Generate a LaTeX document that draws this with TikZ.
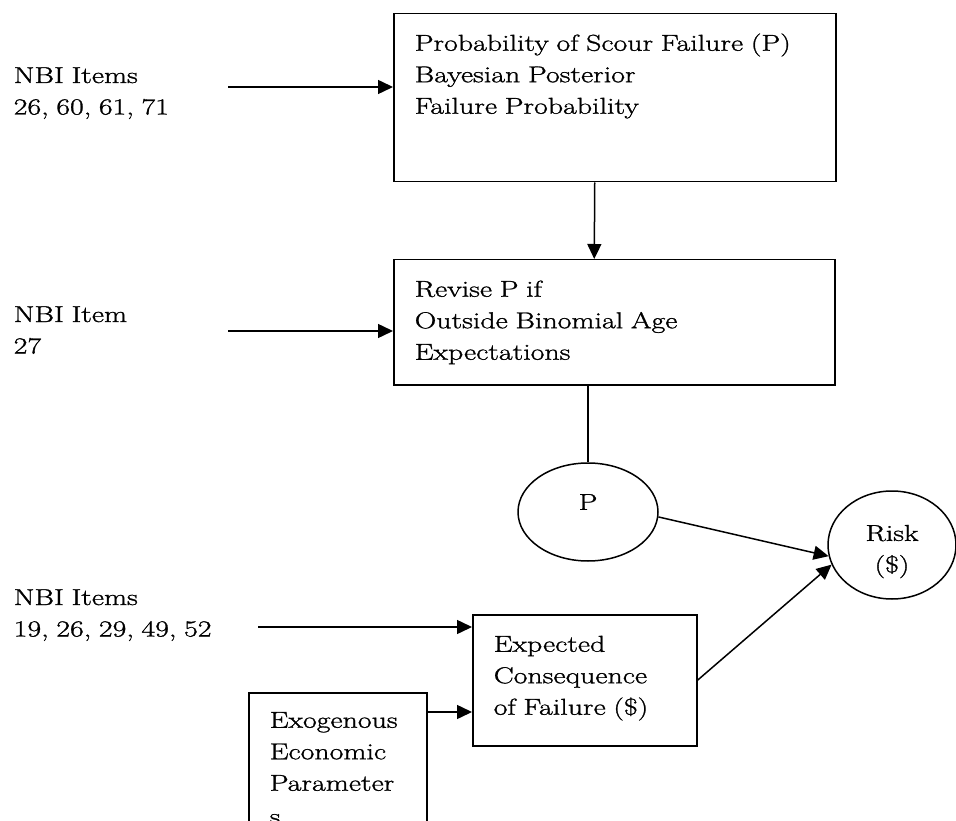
\documentclass[tikz,border=0pt]{standalone}
\usepackage{fontspec}
\setmainfont{Latin Modern Roman}[FakeStretch=1.3, FakeBold=1.2]
\usetikzlibrary{arrows.meta, shapes.geometric}

\begin{document}
\begin{tikzpicture}[x=1pt, y=-1pt, line width=1.5pt]
	\tikzset {->, >={Triangle[length=15pt, width=14pt]},
		every node/.style={font=\fontsize{23pt}{31.5pt}\selectfont},
		box/.style={draw, rectangle, anchor=north west, align=left, inner xsep=21pt, inner ysep=0pt, text height=37pt},
		items/.style={anchor=base west, align=left, text width=220pt, inner sep=0pt},
		oval/.style={draw, ellipse, inner sep=0pt, align=center} }

	\useasboundingbox (0,0) rectangle (956,821);

	\node[box, text width=400pt, text depth=131pt]	(A) at (393,13)		{Probability of Scour Failure (P)\\Bayesian Posterior\\Failure Probability};
	\node[box, text width=399pt, text depth=88pt]	(B) at (393,259)	{Revise P if\\Outside Binomial Age\\Expectations};
	\node[box, text width=182pt, text depth=94pt]	(C) at (472,614)	{Expected\\Consequence\\of Failure (\$)};
	\node[box, text width=136pt, text height=35pt, text depth=150pt] (E) at (248,692) {Exogenous\\Economic\\Parameter\\[2pt]s};

	\node[oval, minimum width=140pt, minimum height=98pt, text depth=20pt]	(P) at (588,512) {P};
	\node[oval, minimum width=128pt, minimum height=108pt, text width=80pt, text height=29pt] (R) at (892,545) {Risk\\(\$)};

	\node[items]	(N1) at (13,83)		{NBI Items\\26, 60, 61, 71};
	\node[items]	(N2) at (13,322)	{NBI Item\\27};
	\node[items]	(N3) at (13,605)	{NBI Items\\19, 26, 29, 49, 52};

	\coordinate (a1) at (228,87);
	\coordinate (a2) at (228,331);
	\coordinate (a3) at (258,627);
	\coordinate (e1) at ([yshift=-20pt]E.north east);

	\path
		(a1) edge (a1 -| A.west)
		(a2) edge (a2 -| B.west)
		(a3) edge (a3 -| C.west)
		(e1) edge (e1 -| C.west)
		([xshift=-20pt]A.south) edge ([xshift=-20pt]B.north)
		(P.-4) edge (R.190)
		(C.east) edge (R.198);
	\draw[-] (P.north |- B.south) -- (P.north);

\end{tikzpicture}
\end{document}
